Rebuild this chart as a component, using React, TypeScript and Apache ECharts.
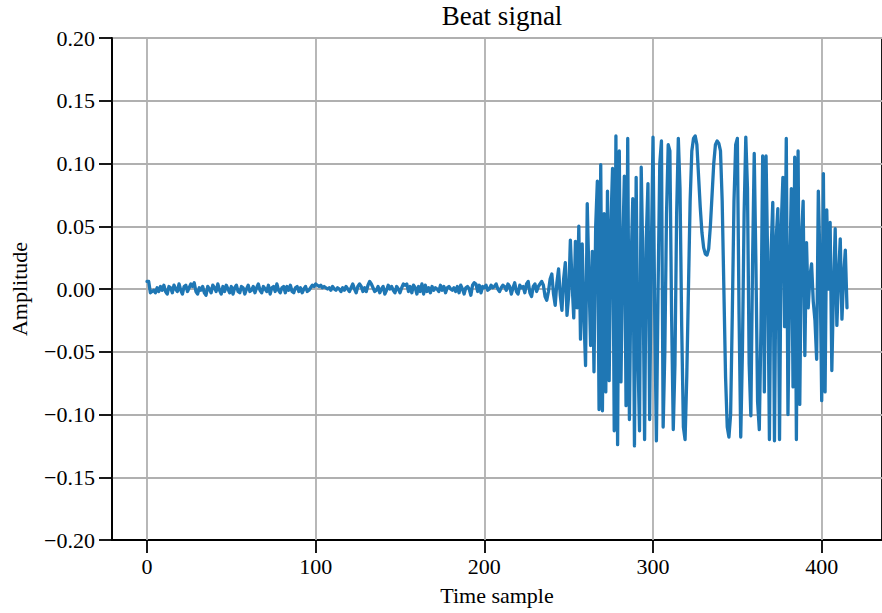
import React, { useEffect, useRef } from "react";
import * as echarts from "echarts";

// Samples 0–231: low-level noise before the beat burst
const quietSignal = [
  0.006, 0.006, -0.003, -0.002, -0.001, -0.003, 0.001, -0.002, 0.002, -0.001,
  0.003, -0.002, -0.004, 0.002, 0.001, -0.003, 0.003, 0.0, -0.002, 0.004,
  -0.001, -0.004, 0.002, 0.003, -0.002, 0.001, 0.004, 0.002, 0.005, -0.002,
  -0.004, 0.001, -0.001, 0.002, -0.003, -0.005, 0.002, 0.0, -0.003, 0.003,
  0.001, -0.002, 0.004, -0.001, -0.004, 0.002, -0.002, 0.003, 0.0, -0.003,
  0.002, -0.004, 0.001, 0.003, -0.002, -0.003, 0.002, 0.001, -0.004, 0.0,
  0.003, -0.002, -0.001, 0.002, -0.003, 0.001, 0.004, -0.001, -0.003, 0.002,
  0.0, -0.002, 0.003, -0.004, 0.001, 0.002, -0.002, 0.004, -0.001, -0.003,
  0.001, 0.002, -0.003, 0.002, -0.001, 0.003, -0.002, -0.003, 0.001, 0.002,
  -0.002, 0.001, -0.003, 0.0, 0.002, -0.002, -0.001, 0.001, 0.003, 0.002,
  0.004, 0.003, 0.002, 0.003, 0.001, 0.002, 0.001, 0.0, 0.001, -0.001,
  0.002, 0.0, -0.001, 0.001, 0.0, -0.002, 0.001, -0.001, 0.002, 0.0,
  -0.002, 0.001, 0.004, 0.0, -0.003, 0.002, 0.004, 0.002, -0.002, 0.001,
  -0.002, 0.003, 0.006, 0.004, 0.001, -0.002, -0.001, 0.002, -0.003, 0.0,
  0.002, -0.004, -0.001, 0.003, 0.0, 0.002, -0.001, -0.003, 0.002, 0.0,
  -0.003, 0.001, 0.004, 0.003, 0.004, -0.002, 0.002, -0.003, 0.003, 0.001,
  -0.004, 0.002, -0.002, 0.004, -0.004, 0.003, -0.002, 0.001, -0.003, 0.002,
  -0.001, 0.001, 0.0, -0.002, 0.003, -0.001, 0.002, -0.003, 0.001, 0.002,
  0.0, -0.001, 0.001, -0.002, 0.002, -0.003, 0.003, 0.0, -0.004, 0.001,
  0.002, 0.0, -0.005, 0.003, 0.005, 0.004, -0.002, 0.003, -0.003, 0.002,
  0.001, 0.003, -0.001, 0.0, 0.003, 0.001, 0.002, 0.004, 0.0, -0.002,
  0.001, 0.003, 0.002, -0.001, 0.004, 0.002, -0.004, 0.001, 0.005, -0.002,
  -0.004, 0.003, 0.001, 0.002, -0.003, 0.004, 0.006, -0.003, -0.006, 0.002,
  0.004, -0.002,
];

// Samples 232–415: the beat burst
const beatBurst = [
  0.002, 0.004, 0.006, 0.003, -0.006, -0.009, -0.002, 0.008, 0.012, -0.004,
  -0.013, 0.005, 0.016, -0.005, -0.017, 0.008, 0.021, -0.021, -0.005, 0.039,
  0.005, -0.023, 0.038, -0.015, 0.05, -0.04, 0.036, -0.02, -0.061, 0.068,
  0.01, -0.045, 0.03, -0.066, 0.05, 0.086, -0.096, 0.099, -0.097, 0.06,
  -0.082, 0.078, -0.073, 0.05, 0.096, -0.113, 0.122, -0.124, 0.11, -0.074,
  0.03, 0.09, -0.093, 0.12, -0.104, 0.02, 0.072, -0.125, 0.089, -0.05,
  -0.113, 0.097, 0.02, -0.12, 0.04, 0.084, -0.104, 0.03, 0.121, -0.02,
  -0.121, 0.0, 0.1, 0.118, -0.11, -0.05, 0.06, 0.115, 0.11, -0.02,
  -0.112, -0.06, 0.06, 0.12, 0.08, -0.03, -0.11, -0.12, -0.07, 0.0,
  0.07, 0.11, 0.12, 0.122, 0.115, 0.09, 0.065, 0.045, 0.033, 0.028,
  0.027, 0.032, 0.05, 0.075, 0.1, 0.115, 0.118, 0.116, 0.11, 0.07,
  0.0, -0.07, -0.11, -0.118, -0.1, -0.02, 0.07, 0.115, 0.12, -0.02,
  -0.118, -0.05, 0.06, 0.121, 0.08, -0.06, -0.101, 0.02, 0.108, 0.02,
  -0.09, -0.112, -0.03, 0.106, -0.082, 0.106, 0.02, -0.12, 0.03, 0.069,
  -0.121, 0.04, 0.064, -0.12, 0.05, 0.089, -0.03, 0.12, -0.1, 0.01,
  0.08, -0.078, 0.105, -0.12, 0.11, -0.092, 0.04, 0.07, -0.053, 0.037,
  -0.015, 0.01, 0.02, -0.01, -0.025, -0.056, 0.078, 0.02, -0.089, 0.092,
  -0.082, 0.063, 0.0, 0.053, -0.065, 0.0, 0.048, -0.029, 0.01, 0.04,
  -0.024, 0.01, 0.031, -0.015,
];

const xTickValues = [0, 100, 200, 300, 400];
const yTickStep = 0.05;

const FONT = "'Liberation Serif', 'Times New Roman', serif";

export default function App() {
  const ref = useRef<HTMLDivElement>(null);

  useEffect(() => {
    if (!ref.current) return;
    const chart = echarts.init(ref.current, null, { renderer: "svg" });
    const amplitude = [...quietSignal, ...beatBurst];
    const points = amplitude.map((v, i) => [i, v]);

    const fmtY = (v: number) => {
      const r = Math.round(v * 100) / 100;
      if (Math.abs(r) < 1e-9) return "0.00";
      return (r < 0 ? "\u2212" : "") + Math.abs(r).toFixed(2);
    };

    chart.setOption({
      animation: false,
      backgroundColor: "#ffffff",
      title: {
        text: "Beat signal",
        left: 497,
        top: -3,
        textAlign: "center",
        textStyle: { fontFamily: FONT, fontSize: 27, fontWeight: "normal", color: "#000" },
      },
      grid: {
        left: 110,
        top: 38,
        right: -3,
        bottom: 73,
        show: true,
        borderColor: "#000",
        borderWidth: 1.8,
        backgroundColor: "transparent",
      },
      xAxis: {
        type: "value",
        min: -20.75,
        max: 435.75,
        axisLine: { show: true, onZero: false, lineStyle: { color: "#000", width: 1.8 } },
        axisTick: {
          show: true,
          length: 13,
          customValues: xTickValues,
          lineStyle: { color: "#000", width: 1.8 },
        },
        axisLabel: {
          customValues: xTickValues,
          margin: 15,
          fontFamily: FONT,
          fontSize: 22,
          color: "#000",
          formatter: (v: number) => String(Math.round(v)),
        },
        splitLine: { show: false },
        name: "Time sample",
        nameLocation: "middle",
        nameGap: 44,
        nameTextStyle: { fontFamily: FONT, fontSize: 22, color: "#000" },
      },
      yAxis: {
        type: "value",
        min: -0.2,
        max: 0.2,
        interval: yTickStep,
        axisLine: { show: true, onZero: false, lineStyle: { color: "#000", width: 1.8 } },
        axisTick: { show: true, length: 13, lineStyle: { color: "#000", width: 1.8 } },
        axisLabel: {
          margin: 17,
          fontFamily: FONT,
          fontSize: 22,
          color: "#000",
          formatter: fmtY,
        },
        splitLine: { show: true, lineStyle: { color: "#b0b0b0", width: 1.8 } },
        name: "Amplitude",
        nameLocation: "middle",
        nameGap: 82,
        nameTextStyle: { fontFamily: FONT, fontSize: 22, color: "#000" },
      },
      series: [
        {
          type: "line",
          data: points,
          showSymbol: false,
          symbol: "none",
          z: 3,
          lineStyle: { color: "#1f77b4", width: 3.3, join: "round", cap: "round" },
          markLine: {
            silent: true,
            z: 1,
            symbol: "none",
            label: { show: false },
            lineStyle: { color: "#b0b0b0", width: 1.8, type: "solid" },
            data: xTickValues.map((v) => ({ xAxis: v })),
          },
        },
      ],
    });

    return () => chart.dispose();
  }, []);

  return (
    <div
      ref={ref}
      style={{ position: "fixed", left: 0, top: 0, width: 882, height: 613 }}
    />
  );
}
